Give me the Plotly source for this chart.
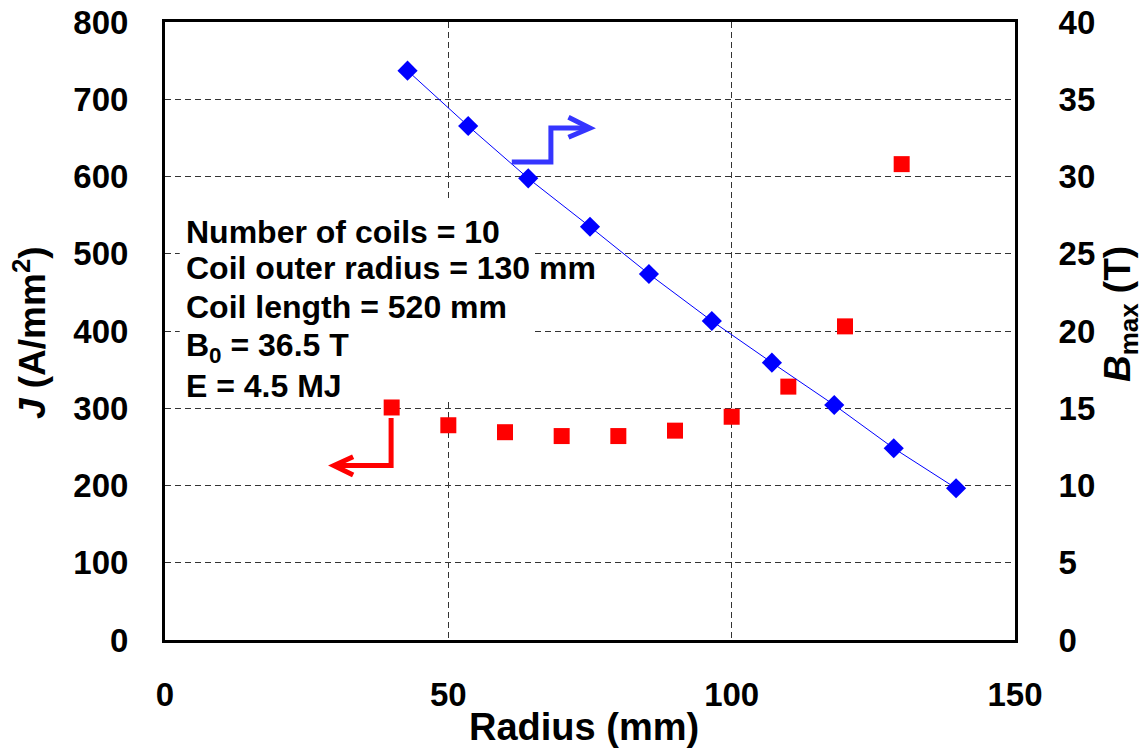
import plotly.graph_objects as go

# Current density J (left axis) versus coil radius
radius_j = [40, 50, 60, 70, 80, 90, 100, 110, 120, 130]
current_density = [301, 278, 269, 264, 264, 271, 289, 328, 406, 616]

# Peak field B_max (right axis) versus coil radius
radius_b = [42.8, 53.5, 64.1, 75.0, 85.4, 96.5, 107.1, 118.1, 128.6, 139.6]
b_max = [36.85, 33.27, 29.88, 26.75, 23.69, 20.65, 17.95, 15.21, 12.41, 9.82]

x_ticks = [0, 50, 100, 150]
j_ticks = [0, 100, 200, 300, 400, 500, 600, 700, 800]
b_ticks = [0, 5, 10, 15, 20, 25, 30, 35, 40]

info_lines = [
    "Number of coils = 10",
    "Coil outer radius = 130 mm",
    "Coil length = 520 mm",
    "B<sub>0</sub> = 36.5 T",
    "E = 4.5 MJ",
]
info_y = [528, 481, 431, 379, 329]

FONT = "Liberation Sans, Arial, sans-serif"
GRID = "#333333"

fig = go.Figure()

fig.add_trace(go.Scatter(
    x=radius_j, y=current_density, mode="markers",
    marker=dict(symbol="square", size=16, color="#ff0000",
                line=dict(width=0)),
    yaxis="y", showlegend=False,
))
fig.add_trace(go.Scatter(
    x=radius_b, y=b_max, mode="lines+markers",
    line=dict(color="#0000ff", width=1),
    marker=dict(symbol="diamond", size=15.5, color="#0000ff",
                line=dict(width=0)),
    yaxis="y2", showlegend=False,
))

tick_font = dict(family=FONT, size=33, color="black", weight="bold")

fig.update_layout(
    width=1147, height=752,
    margin=dict(l=165, r=132, t=22, b=112),
    paper_bgcolor="white", plot_bgcolor="white",
    xaxis=dict(
        range=[0, 150], tickvals=x_ticks, ticks="", automargin=False,
        showline=True, linewidth=3, linecolor="black", mirror=True,
        showgrid=True, gridcolor=GRID, gridwidth=1, griddash="6px,4px",
        zeroline=False, tickfont=tick_font, ticklabelstandoff=23,
    ),
    yaxis=dict(
        range=[0, 800], tickvals=j_ticks, ticks="", automargin=False,
        showline=True, linewidth=3, linecolor="black",
        showgrid=True, gridcolor=GRID, gridwidth=1, griddash="6px,4px",
        zeroline=False, tickfont=tick_font, ticklabelstandoff=27,
    ),
    yaxis2=dict(
        range=[0, 40], tickvals=b_ticks, ticks="", overlaying="y", side="right",
        automargin=False,
        showline=True, linewidth=3, linecolor="black",
        showgrid=False, zeroline=False, tickfont=tick_font,
        ticklabelstandoff=34,
    ),
)

# White panel behind the parameter list
fig.add_shape(type="rect", xref="x", yref="y", x0=2.6, x1=64.8, y0=313, y1=571,
              fillcolor="white", line=dict(width=0), layer="between")

for text, y in zip(info_lines, info_y):
    fig.add_annotation(x=3.3, y=y, xref="x", yref="y", text=text,
                       showarrow=False, xanchor="left", yanchor="middle",
                       font=dict(family=FONT, size=32, color="black", weight="bold"))

# Bent arrows pointing each series to its axis
def bent_arrow(points, head, color):
    path = "M " + " L ".join(f"{x},{y}" for x, y in points)
    fig.add_shape(type="path", xref="x", yref="y", path=path,
                  line=dict(color=color, width=5))
    tip, arm1, arm2 = head
    fig.add_shape(type="path", xref="x", yref="y",
                  path=f"M {arm1[0]},{arm1[1]} L {tip[0]},{tip[1]} L {arm2[0]},{arm2[1]}",
                  line=dict(color=color, width=5))

bent_arrow([(61.2, 618.8), (68.1, 618.8), (68.1, 662.8), (74.6, 662.8)],
           [(75.0, 662.8), (71.2, 676.6), (71.2, 650.7)], "#3535ff")
bent_arrow([(39.9, 287.4), (39.9, 225.9), (30.3, 225.9)],
           [(29.8, 225.9), (33.2, 237.3), (33.2, 213.6)], "#ff0000")

# Axis titles
fig.add_annotation(x=0.493, y=-0.141, xref="paper", yref="paper",
                   text="Radius (mm)", showarrow=False,
                   xanchor="center", yanchor="middle",
                   font=dict(family=FONT, size=38, color="black", weight="bold"))
fig.add_annotation(x=-0.159, y=0.498, xref="paper", yref="paper",
                   text="<i>J</i> (A/mm<sup>2</sup>)", showarrow=False, textangle=-90,
                   xanchor="center", yanchor="middle",
                   font=dict(family=FONT, size=37, color="black", weight="bold"))
fig.add_annotation(x=1.1235, y=0.5275, xref="paper", yref="paper",
                   text="<i>B</i><sub>max</sub> (T)", showarrow=False, textangle=-90,
                   xanchor="center", yanchor="middle",
                   font=dict(family=FONT, size=37, color="black", weight="bold"))

fig.write_html("out.html")
